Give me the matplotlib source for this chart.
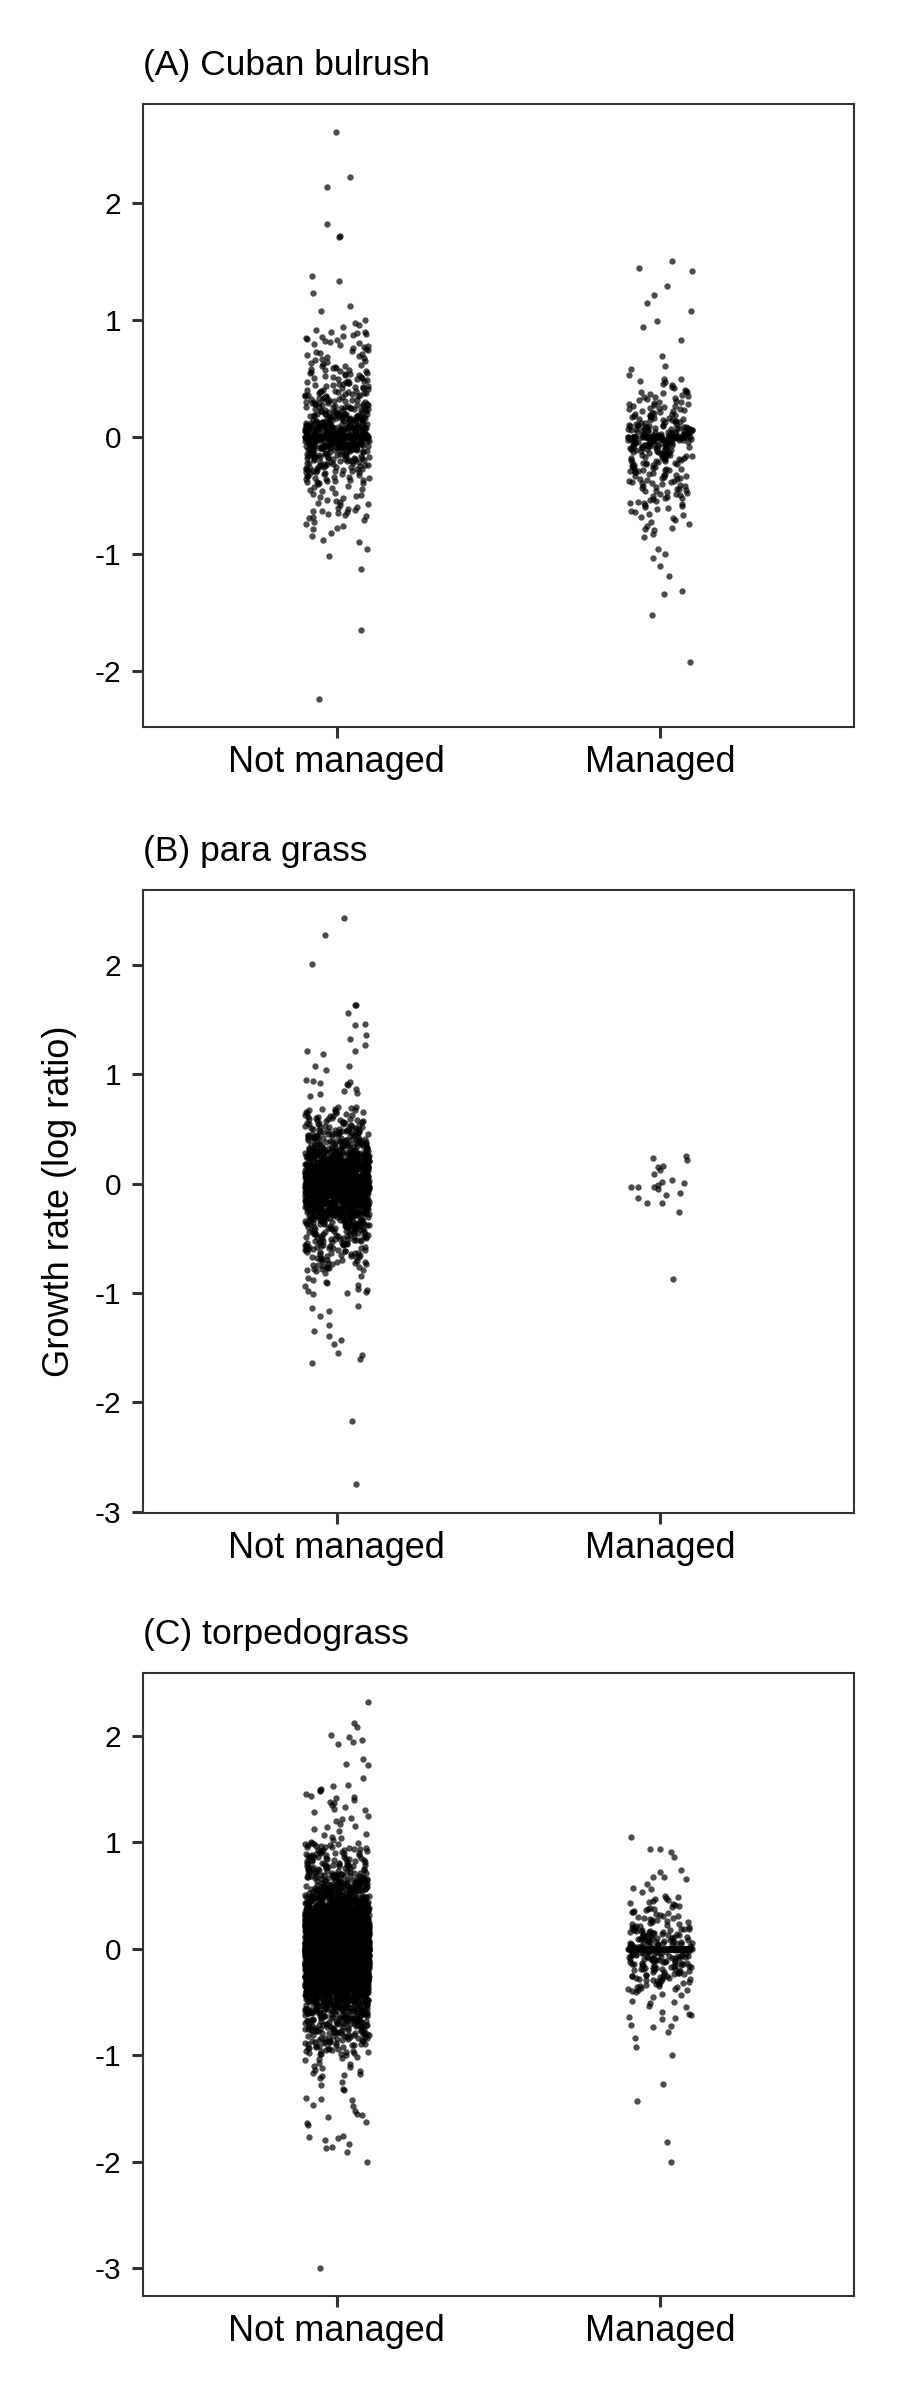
import numpy as np
import matplotlib
matplotlib.use("Agg")
import matplotlib.pyplot as plt
from matplotlib.ticker import MultipleLocator

plt.rcParams['font.family'] = ['Liberation Sans', 'DejaVu Sans']
plt.rcParams['axes.unicode_minus'] = False

categories = ["Not managed", "Managed"]
panel_titles = ["(A) Cuban bulrush", "(B) para grass", "(C) torpedograss"]

# lower edges of the 0.1-wide bins used for the dense core of each cloud
bin_lows = [-1.0, -0.9, -0.8, -0.7, -0.6, -0.5, -0.4, -0.3, -0.2, -0.1,
            0.0, 0.1, 0.2, 0.3, 0.4, 0.5, 0.6, 0.7, 0.8, 0.9]

# (A) Cuban bulrush
a_nm_counts = [0, 0, 6, 12, 10, 10, 22, 35, 50, 110, 110, 65, 40, 32, 22, 20, 12, 12, 12, 0]
a_nm_zeros = 70
a_nm_tails = [0.90, 0.92, 0.94, 0.96, 0.98, 1.00, 1.08, 1.12, 1.23, 1.34, 1.38,
              1.71, 1.72, 1.82, 2.14, 2.23, 2.61,
              -0.82, -0.85, -0.88, -0.90, -0.96, -1.02, -1.13, -1.65, -2.24]
a_m_counts = [0, 0, 6, 8, 14, 16, 20, 25, 30, 55, 50, 25, 18, 14, 8, 0, 0, 0, 0, 0]
a_m_zeros = 35
a_m_tails = [0.50, 0.53, 0.58, 0.61, 0.69, 0.83, 0.94, 0.99, 1.08, 1.15, 1.22,
             1.29, 1.42, 1.45, 1.51,
             -0.80, -0.83, -0.86, -0.96, -1.00, -1.04, -1.10, -1.19, -1.32,
             -1.34, -1.52, -1.93]

# (B) para grass
b_nm_counts = [0, 0, 20, 25, 35, 40, 60, 120, 200, 250, 250, 200, 120, 60, 45, 30, 20, 0, 0, 0]
b_nm_zeros = 100
b_nm_tails = [0.70, 0.80, 0.82, 0.83, 0.85, 0.87, 0.90, 0.91, 0.92, 0.93, 0.94,
              0.95, 1.04, 1.08, 1.08, 1.19, 1.21, 1.21, 1.27, 1.32, 1.36, 1.45,
              1.46, 1.56, 1.63, 1.63, 2.01, 2.27, 2.43,
              -0.82, -0.84, -0.86, -0.88, -0.90, -0.91, -0.93, -0.94, -0.96,
              -0.97, -0.98, -0.99, -1.00, -1.01, -1.12, -1.14, -1.16, -1.21,
              -1.29, -1.35, -1.39, -1.43, -1.47, -1.55, -1.57, -1.60, -1.64,
              -2.17, -2.75]
b_m_counts = [0] * 20
b_m_zeros = 0
b_m_tails = [0.256, 0.234, 0.216, 0.161, 0.154, 0.125, 0.092, 0.037, 0.018,
             0.007, -0.011, -0.029, -0.029, -0.029, -0.047, -0.084, -0.106,
             -0.128, -0.172, -0.172, -0.256, -0.867]

# (C) torpedograss
c_nm_counts = [25, 35, 50, 60, 80, 120, 250, 350, 400, 450, 450, 400, 350, 250, 120, 80, 55, 40, 30, 25]
c_nm_zeros = 150
c_nm_tails = [1.02, 1.04, 1.05, 1.07, 1.08, 1.10, 1.12, 1.14, 1.15, 1.17, 1.20,
              1.22, 1.23, 1.25, 1.28, 1.30, 1.31, 1.33, 1.35, 1.37, 1.38, 1.40,
              1.41, 1.42, 1.43, 1.45, 1.48, 1.49, 1.50, 1.53, 1.54, 1.60, 1.72,
              1.73, 1.78, 1.92, 1.94, 1.96, 1.99, 2.01, 2.08, 2.12, 2.32,
              -1.02, -1.03, -1.04, -1.05, -1.07, -1.08, -1.10, -1.11, -1.12,
              -1.14, -1.15, -1.17, -1.18, -1.19, -1.20, -1.22, -1.25, -1.28,
              -1.32, -1.33, -1.40, -1.41, -1.42, -1.47, -1.48, -1.53, -1.55,
              -1.56, -1.58, -1.63, -1.64, -1.66, -1.76, -1.77, -1.78, -1.80,
              -1.84, -1.86, -1.87, -1.91, -2.00, -3.00]
c_m_counts = [0, 0, 0, 0, 0, 0, 18, 25, 35, 45, 40, 30, 16, 14, 10, 0, 0, 0, 0, 0]
c_m_zeros = 90
c_m_tails = [0.53, 0.56, 0.57, 0.61, 0.65, 0.67, 0.67, 0.72, 0.74, 0.86, 0.91,
             0.94, 0.94, 1.05,
             -0.41, -0.43, -0.44, -0.45, -0.49, -0.50, -0.51, -0.54, -0.55,
             -0.60, -0.61, -0.62, -0.64, -0.65, -0.66, -0.72, -0.73, -0.74,
             -0.78, -0.84, -0.92, -1.00, -1.27, -1.43, -1.82, -2.00]

panels = [
    [(a_nm_counts, a_nm_zeros, a_nm_tails), (a_m_counts, a_m_zeros, a_m_tails)],
    [(b_nm_counts, b_nm_zeros, b_nm_tails), (b_m_counts, b_m_zeros, b_m_tails)],
    [(c_nm_counts, c_nm_zeros, c_nm_tails), (c_m_counts, c_m_zeros, c_m_tails)],
]

BIN_W = 0.1
JITTER = 0.1
# horizontal jitter only (like geom_jitter(width = 0.1, height = 0)); y values are not touched
jit = np.random.default_rng(11)


def expand(counts, zeros, tails):
    # spread each binned count evenly through its bin, then add zeros and single points
    vals = []
    for lo, n in zip(bin_lows, counts):
        for i in range(n):
            vals.append(lo + (i + 0.5) / n * BIN_W)
    vals += [0.0] * zeros
    vals += list(tails)
    return np.array(vals)


fig = plt.figure(figsize=(9, 24), dpi=100)
bottoms = [0.6971, 0.3697, 0.0432]
border = '#333333'

for p, (groups, title, bottom) in enumerate(zip(panels, panel_titles, bottoms)):
    ax = fig.add_axes([0.1589, bottom, 0.7895, 0.2596])
    allv = []
    for g, (counts, zeros, tails) in enumerate(groups):
        y = expand(counts, zeros, tails)
        x = g + 1 + jit.uniform(-JITTER, JITTER, len(y))
        ax.scatter(x, y, s=21, color='black', alpha=0.7, linewidths=0, zorder=2)
        allv.append(y)
    allv = np.concatenate(allv)
    rng = allv.max() - allv.min()
    ax.set_ylim(allv.min() - 0.05 * rng, allv.max() + 0.05 * rng)
    ax.set_xlim(0.4, 2.6)
    ax.set_xticks([1, 2])
    ax.set_xticklabels(categories, fontsize=26)
    ax.yaxis.set_major_locator(MultipleLocator(1))
    ax.tick_params(axis='y', labelsize=21.5, pad=7.5)
    ax.tick_params(axis='x', pad=5)
    ax.tick_params(length=8, width=2.2, color=border, labelcolor='black')
    for sp in ax.spines.values():
        sp.set_color(border)
        sp.set_linewidth(1.5)
    ax.set_title(title, loc='left', fontsize=25.5, pad=21)

fig.text(60 / 900, 1 - 1200.8 / 2400, 'Growth rate (log ratio)', rotation=90,
         ha='center', va='center', fontsize=26)

fig.savefig('out.png', dpi=100, facecolor='white')
